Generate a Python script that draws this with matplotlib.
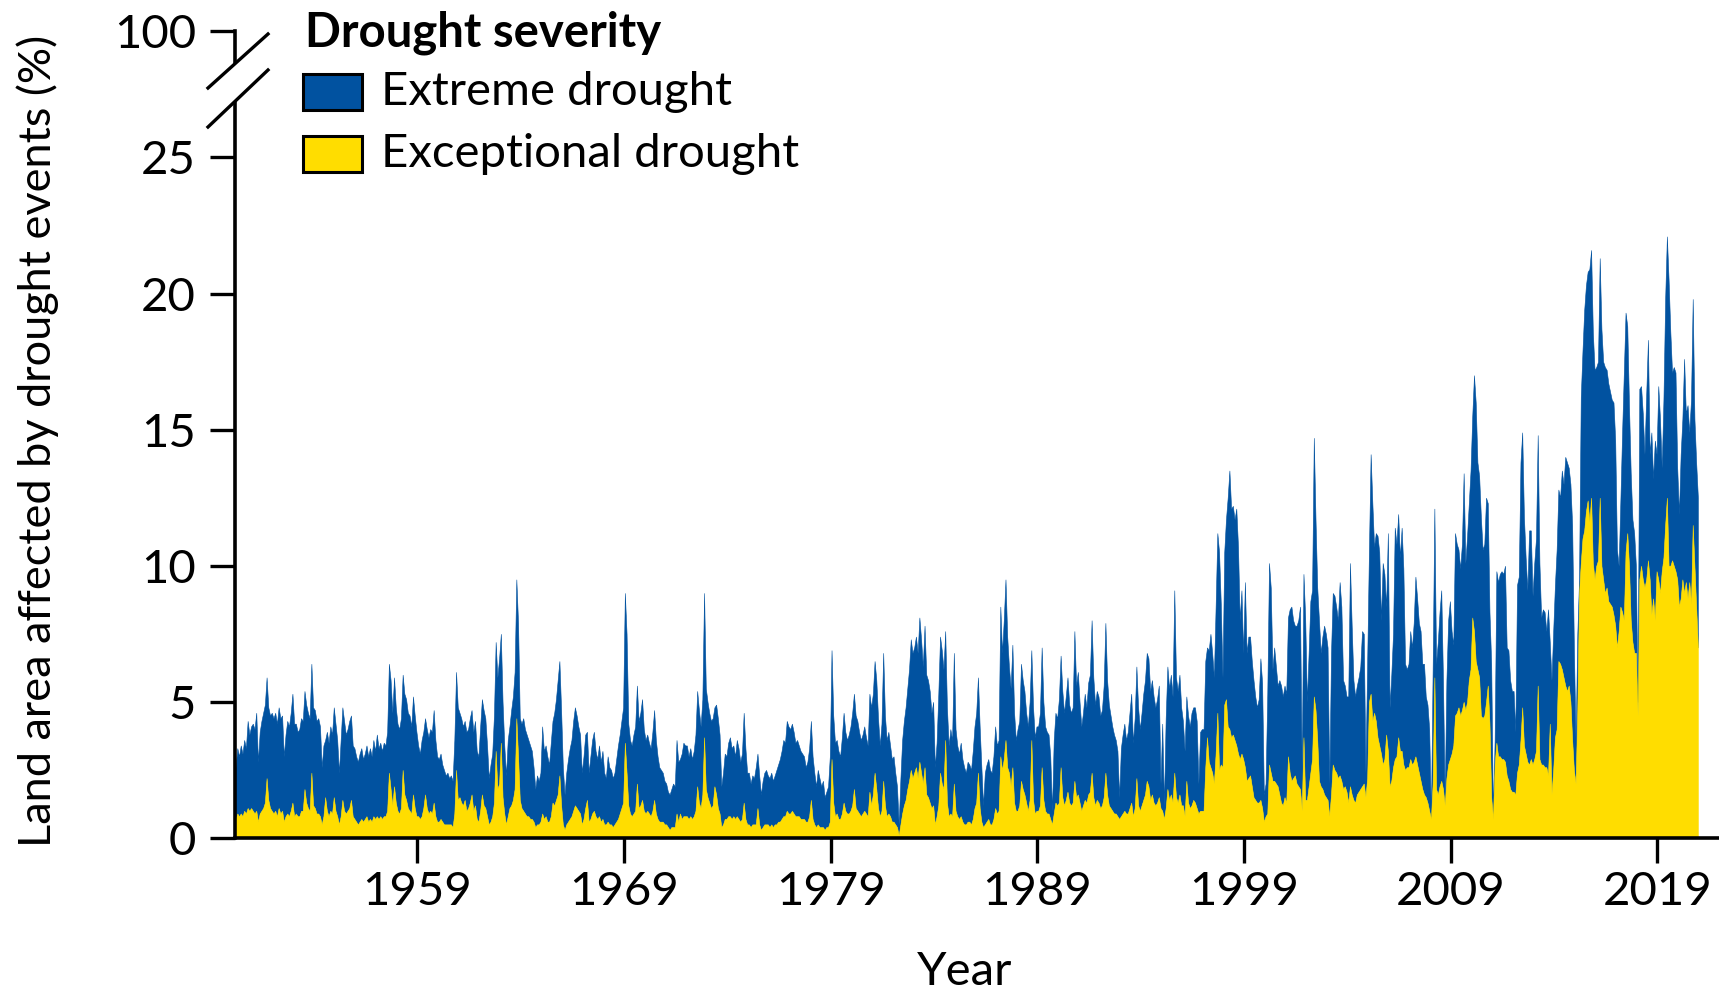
import matplotlib
matplotlib.use("Agg")
import matplotlib.pyplot as plt
from matplotlib.lines import Line2D
from matplotlib.patches import Rectangle
import numpy as np

plt.rcParams["font.family"] = ["Lato", "DejaVu Sans"]

# Monthly share of land area (%) in extreme-or-worse drought (top of blue band), one row per year
total_1950s = [
    3.0, 3.1, 2.6, 3.3, 3.0, 3.4, 3.1, 3.6, 3.3, 4.3, 3.8, 4.1,
    4.2, 4.0, 4.6, 2.8, 3.9, 4.3, 4.6, 4.9, 5.9, 4.8, 4.5, 4.6,
    4.4, 4.6, 4.2, 4.8, 4.4, 4.5, 3.0, 3.8, 4.3, 4.1, 4.6, 5.3,
    4.2, 4.2, 3.9, 4.0, 4.4, 4.3, 5.4, 4.9, 4.6, 4.4, 6.4, 4.8,
    4.7, 4.3, 4.4, 4.1, 2.6, 3.4, 3.6, 3.9, 3.5, 4.1, 3.8, 4.8,
    4.2, 3.6, 2.4, 3.6, 4.8, 4.3, 3.8, 4.0, 4.3, 4.5, 3.4, 3.3,
    3.0, 2.8, 3.1, 3.3, 2.9, 3.1, 3.4, 3.0, 3.3, 3.0, 3.6, 3.2,
    3.8, 3.3, 3.5, 3.2, 3.5, 3.4, 3.9, 6.4, 5.8, 4.6, 5.9, 4.8,
    4.2, 4.0, 4.4, 6.0, 5.3, 5.1, 4.6, 4.5, 4.1, 5.2, 4.5, 3.9,
    3.4, 3.1, 3.6, 3.9, 4.4, 4.0, 3.7, 4.0, 3.9, 4.7, 3.6, 3.0,
]
total_1960s = [
    2.9, 3.1, 2.7, 2.5, 2.3, 2.4, 2.2, 2.3, 2.1, 3.6, 6.1, 4.8,
    4.6, 4.4, 4.1, 4.3, 3.9, 4.0, 4.4, 4.7, 3.9, 4.3, 3.2, 3.0,
    4.1, 5.1, 4.7, 4.4, 3.4, 2.2, 2.7, 3.1, 4.5, 7.2, 5.9, 6.6,
    7.5, 5.0, 3.4, 2.3, 3.6, 4.1, 4.7, 5.2, 6.1, 9.5, 7.9, 4.4,
    4.2, 4.4, 4.0, 3.8, 3.6, 3.4, 3.2, 2.6, 1.8, 2.3, 2.1, 2.4,
    4.1, 3.2, 3.4, 3.0, 2.7, 3.5, 4.3, 4.6, 5.1, 5.8, 6.5, 4.7,
    2.6, 1.6, 2.4, 2.9, 3.3, 3.6, 4.3, 4.8, 4.5, 4.1, 3.8, 2.4,
    3.0, 3.8, 3.9, 2.4, 3.0, 3.6, 3.9, 3.2, 2.9, 3.4, 2.8, 3.2,
    2.4, 2.2, 3.0, 2.6, 2.5, 2.2, 2.4, 2.9, 3.4, 3.8, 4.3, 4.8,
    9.0, 7.5, 4.2, 3.6, 3.4, 3.8, 4.1, 5.6, 4.3, 4.6, 5.1, 4.0,
]
total_1970s = [
    3.6, 3.8, 3.5, 3.3, 3.9, 4.7, 3.6, 3.0, 2.6, 2.5, 2.4, 2.1,
    2.0, 1.7, 1.6, 1.8, 2.0, 1.9, 3.6, 2.8, 2.9, 3.1, 3.5, 3.4,
    3.4, 3.0, 3.3, 2.9, 3.2, 3.8, 5.4, 4.7, 4.1, 5.1, 9.0, 5.5,
    5.0, 4.6, 4.3, 4.4, 4.8, 4.9, 4.4, 3.8, 1.9, 2.4, 3.1, 3.0,
    3.5, 3.7, 3.3, 3.4, 3.0, 3.6, 3.3, 2.8, 3.1, 4.6, 3.3, 2.4,
    2.4, 2.0, 2.3, 2.2, 2.6, 3.1, 2.3, 1.6, 2.1, 2.4, 2.5, 2.3,
    2.2, 2.4, 2.1, 2.3, 2.5, 2.7, 2.9, 3.2, 3.6, 3.5, 4.3, 4.1,
    4.0, 4.2, 3.9, 3.5, 3.6, 3.4, 3.2, 3.1, 3.0, 2.6, 2.8, 3.3,
    4.3, 3.0, 2.4, 1.9, 2.5, 2.2, 1.9, 2.1, 1.5, 1.7, 1.9, 3.0,
    6.9, 4.5, 3.5, 3.6, 3.2, 3.0, 3.7, 4.6, 3.9, 3.6, 3.8, 4.1,
]
total_1980s = [
    4.6, 5.3, 4.5, 4.3, 3.9, 3.6, 3.8, 4.1, 3.7, 3.4, 5.3, 4.8,
    5.3, 6.5, 5.8, 4.4, 3.4, 4.2, 6.8, 4.5, 3.6, 3.9, 3.4, 2.9,
    3.0, 2.4, 1.9, 0.5, 2.2, 3.6, 4.3, 4.8, 5.5, 6.2, 7.3, 6.8,
    7.0, 7.4, 6.8, 8.1, 7.3, 6.3, 7.8, 6.0, 5.8, 5.4, 4.6, 5.0,
    2.6, 3.5, 5.3, 7.4, 6.9, 6.2, 7.6, 4.8, 3.4, 4.0, 3.6, 6.8,
    4.0, 3.4, 3.1, 3.5, 2.9, 2.6, 2.4, 2.8, 2.7, 2.5, 3.2, 4.1,
    4.6, 5.9, 4.1, 2.6, 1.2, 2.4, 2.7, 2.9, 2.5, 2.4, 3.0, 4.1,
    3.4, 3.6, 8.5, 6.8, 8.0, 9.5, 7.4, 6.3, 5.5, 7.1, 4.6, 3.6,
    4.0, 4.3, 6.4, 5.8, 5.4, 4.6, 4.1, 5.0, 6.9, 4.8, 3.7, 4.1,
    4.1, 4.6, 7.0, 5.0, 4.1, 3.9, 3.8, 3.0, 1.0, 3.6, 4.6, 4.4,
]
total_1990s = [
    5.1, 6.7, 5.4, 4.6, 5.2, 5.9, 4.9, 4.6, 4.8, 7.6, 5.6, 6.1,
    5.0, 4.1, 4.6, 5.3, 4.8, 5.7, 6.0, 8.0, 5.9, 4.9, 5.4, 5.2,
    4.5, 4.7, 5.6, 7.9, 5.8, 4.9, 4.5, 4.1, 3.8, 3.6, 3.2, 1.5,
    3.3, 3.8, 4.2, 3.6, 3.9, 4.6, 5.3, 3.5, 4.4, 6.3, 4.8, 4.0,
    4.6, 5.3, 5.8, 6.8, 6.6, 5.4, 5.8, 5.2, 4.8, 5.1, 5.6, 2.0,
    4.2, 1.2, 4.4, 6.3, 5.5, 6.0, 5.2, 9.1, 5.9, 5.4, 6.0, 4.8,
    4.3, 3.2, 5.2, 4.5, 4.1, 4.6, 4.8, 4.8, 4.3, 2.0, 3.9, 4.0,
    4.0, 6.5, 7.0, 6.9, 7.5, 6.8, 5.9, 8.5, 11.2, 10.5, 8.6, 5.9,
    10.5, 11.7, 12.5, 13.5, 12.1, 12.2, 11.7, 12.1, 10.7, 8.0, 9.1, 6.8,
    9.4, 6.8, 7.4, 7.4, 6.5, 5.8, 5.2, 4.8, 5.1, 6.6, 5.7, 1.6,
]
total_2000s = [
    2.0, 5.3, 10.1, 9.2, 6.2, 7.0, 6.3, 5.6, 5.8, 5.6, 5.2, 5.6,
    5.3, 8.1, 8.4, 8.5, 8.0, 7.8, 7.8, 8.0, 8.5, 2.5, 9.7, 8.1,
    5.0, 6.8, 8.7, 9.1, 14.7, 11.7, 9.2, 8.0, 6.8, 7.4, 7.8, 7.5,
    7.0, 2.0, 6.8, 9.0, 8.9, 8.5, 8.0, 9.4, 8.5, 5.8, 5.6, 5.2,
    5.2, 10.1, 7.8, 5.8, 5.2, 5.6, 5.9, 6.3, 7.6, 7.5, 2.4, 6.5,
    10.5, 14.1, 12.3, 10.7, 11.2, 11.1, 10.5, 8.0, 10.1, 9.7, 8.5, 11.2,
    4.8, 6.0, 7.5, 11.4, 10.8, 11.9, 10.3, 11.4, 9.9, 6.4, 6.2, 6.4,
    7.6, 7.0, 7.9, 9.6, 8.8, 7.9, 7.6, 6.4, 6.4, 5.2, 4.9, 4.0,
    0.8, 6.2, 12.1, 6.4, 7.2, 8.3, 9.1, 5.8, 1.5, 5.8, 8.0, 8.7,
    7.6, 7.1, 11.2, 10.8, 10.6, 9.9, 10.8, 13.4, 10.1, 11.1, 12.3, 13.5,
]
total_2010s = [
    15.5, 17.0, 16.0, 13.8, 13.3, 11.8, 10.6, 10.8, 12.5, 12.3, 8.3, 6.4,
    0.9, 3.6, 9.8, 9.4, 9.7, 9.8, 9.7, 10.0, 7.0, 6.9, 5.8, 5.4,
    5.4, 3.9, 9.3, 9.6, 13.8, 14.9, 11.8, 10.3, 9.1, 11.3, 11.3, 8.9,
    10.1, 11.0, 14.8, 10.1, 8.1, 8.4, 8.3, 7.6, 8.4, 7.2, 5.8, 7.6,
    9.3, 10.6, 12.8, 12.5, 13.5, 13.0, 14.0, 13.8, 13.6, 13.0, 11.5, 7.0,
    3.5, 7.5, 9.5, 16.2, 17.9, 19.4, 20.3, 20.8, 20.9, 21.6, 18.6, 17.2,
    17.3, 17.5, 21.3, 18.7, 17.5, 17.3, 17.2, 16.7, 16.4, 16.1, 16.0, 14.6,
    10.6, 10.0, 12.4, 14.9, 17.1, 19.3, 18.8, 15.9, 13.4, 11.7, 11.2, 10.0,
    5.0, 16.5, 16.6, 15.6, 14.1, 16.3, 18.3, 14.1, 14.9, 13.2, 14.6, 14.1,
    16.6, 15.4, 13.6, 16.1, 19.8, 22.1, 20.5, 18.6, 17.1, 17.3, 17.1, 13.6,
    11.9, 14.1, 15.4, 17.6, 15.6, 15.9, 14.9, 16.1, 19.8, 15.4, 13.8, 12.5,
]

# Monthly share of land area (%) in exceptional drought (yellow band)
exceptional_1950s = [
    0.7, 0.8, 0.7, 0.9, 0.8, 0.9, 0.8, 1.0, 0.9, 1.1, 1.0, 1.1,
    1.0, 0.9, 1.0, 0.6, 0.9, 1.0, 1.1, 1.3, 2.2, 1.4, 1.1, 1.0,
    0.9, 1.0, 0.8, 1.1, 0.9, 1.0, 0.6, 0.8, 0.9, 0.8, 1.0, 1.3,
    0.8, 0.9, 0.8, 0.8, 1.0, 1.0, 1.8, 1.3, 1.1, 1.0, 2.4, 1.2,
    1.1, 0.9, 0.9, 0.8, 0.5, 0.8, 1.5, 1.0, 0.8, 1.0, 0.9, 1.5,
    1.0, 0.8, 0.5, 0.8, 1.4, 1.0, 0.9, 1.0, 1.1, 1.4, 0.8, 0.7,
    0.6, 0.5, 0.6, 0.7, 0.6, 0.7, 0.8, 0.6, 0.7, 0.6, 0.8, 0.7,
    0.8, 0.7, 0.8, 0.7, 0.8, 0.8, 1.0, 2.4, 1.8, 1.2, 1.9, 1.3,
    1.0, 0.9, 1.1, 2.5, 1.6, 1.4, 1.1, 1.0, 0.9, 1.6, 1.1, 0.8,
    0.8, 0.7, 0.8, 1.1, 1.6, 1.1, 0.9, 1.0, 0.9, 1.3, 0.8, 0.6,
]
exceptional_1960s = [
    0.6, 0.7, 0.6, 0.5, 0.5, 0.5, 0.5, 0.5, 0.4, 0.9, 2.5, 1.4,
    1.5, 1.3, 1.2, 1.4, 1.0, 1.1, 1.3, 1.6, 1.0, 1.2, 0.7, 0.6,
    1.0, 1.6, 1.2, 1.1, 0.8, 0.5, 0.6, 0.8, 1.3, 3.2, 1.8, 2.0,
    3.5, 1.5, 0.9, 0.5, 0.8, 1.1, 1.2, 1.4, 1.8, 4.4, 3.0, 1.4,
    1.1, 1.0, 0.9, 0.8, 0.8, 0.7, 0.7, 0.6, 0.4, 0.5, 0.5, 0.6,
    0.9, 0.7, 0.8, 0.6, 0.6, 0.8, 1.3, 1.2, 1.4, 1.6, 2.3, 1.2,
    0.5, 0.3, 0.5, 0.6, 0.7, 0.8, 1.0, 1.2, 1.1, 1.0, 0.9, 0.5,
    0.7, 1.1, 1.4, 0.6, 0.7, 0.9, 1.0, 0.8, 0.7, 0.8, 0.6, 0.7,
    0.5, 0.5, 0.6, 0.5, 0.5, 0.4, 0.5, 0.6, 0.7, 0.9, 1.1, 1.3,
    3.5, 2.4, 1.2, 0.9, 0.8, 0.9, 1.0, 2.0, 1.1, 1.2, 1.4, 1.0,
]
exceptional_1970s = [
    0.9, 1.0, 0.9, 0.8, 1.0, 1.4, 0.9, 0.7, 0.6, 0.6, 0.6, 0.5,
    0.5, 0.4, 0.3, 0.4, 0.4, 0.4, 0.9, 0.6, 0.9, 0.7, 0.8, 0.8,
    0.8, 0.7, 0.8, 0.7, 0.8, 1.0, 1.9, 1.3, 1.1, 1.6, 3.7, 1.8,
    1.5, 1.3, 1.1, 1.2, 1.9, 1.6, 1.1, 0.9, 0.4, 0.5, 0.7, 0.7,
    0.8, 0.8, 0.7, 0.8, 0.7, 0.8, 0.7, 0.6, 0.7, 1.3, 0.7, 0.5,
    0.5, 0.4, 0.5, 0.5, 0.5, 1.1, 0.5, 0.3, 0.4, 0.5, 0.5, 0.5,
    0.4, 0.5, 0.4, 0.5, 0.5, 0.6, 0.6, 0.7, 0.8, 0.8, 1.0, 0.9,
    0.9, 1.0, 0.9, 0.8, 0.8, 0.8, 0.7, 0.7, 0.7, 0.6, 0.6, 0.8,
    1.4, 0.7, 0.5, 0.4, 0.5, 0.4, 0.4, 0.4, 0.3, 0.4, 0.4, 0.6,
    2.9, 1.3, 0.8, 0.9, 0.7, 0.7, 0.9, 1.3, 1.0, 0.9, 0.9, 1.0,
]
exceptional_1980s = [
    1.2, 1.8, 1.1, 1.0, 0.9, 0.8, 0.9, 1.0, 0.9, 0.8, 1.7, 1.2,
    1.6, 2.4, 1.8, 1.1, 0.8, 1.0, 2.1, 1.2, 0.8, 0.9, 0.8, 0.6,
    0.6, 0.5, 0.4, 0.1, 0.5, 0.9, 1.2, 1.4, 1.8, 2.1, 2.5, 2.2,
    2.4, 2.6, 2.2, 2.8, 2.4, 2.0, 2.6, 1.6, 1.5, 1.3, 1.1, 1.2,
    0.5, 0.8, 1.2, 2.4, 2.0, 1.8, 3.6, 1.3, 0.8, 0.9, 0.8, 2.0,
    1.0, 0.8, 0.7, 0.8, 0.6, 0.5, 0.5, 0.6, 0.6, 0.5, 0.7, 1.1,
    1.3, 2.4, 1.1, 0.6, 0.4, 0.5, 0.6, 0.7, 0.5, 0.5, 0.7, 1.1,
    0.9, 1.0, 3.0, 2.5, 2.9, 3.6, 2.6, 2.4, 1.9, 2.6, 1.3, 1.0,
    1.0, 1.2, 2.1, 1.8, 1.6, 1.3, 1.0, 1.4, 3.6, 1.4, 0.9, 1.0,
    1.0, 1.2, 2.6, 1.4, 1.0, 0.9, 0.9, 0.7, 0.5, 0.9, 1.3, 1.2,
]
exceptional_1990s = [
    1.3, 2.6, 1.5, 1.2, 1.4, 1.7, 1.3, 1.2, 1.3, 2.1, 1.5, 1.6,
    1.3, 1.0, 1.2, 1.4, 1.3, 1.6, 1.7, 2.4, 1.5, 1.2, 1.4, 1.3,
    1.1, 1.2, 1.5, 2.4, 1.6, 1.2, 1.1, 1.0, 0.9, 0.9, 0.8, 0.7,
    0.8, 0.9, 1.0, 0.9, 0.9, 1.1, 1.3, 0.8, 1.1, 2.2, 1.2, 1.0,
    1.2, 1.4, 1.6, 2.1, 1.9, 1.4, 1.6, 1.3, 1.2, 1.3, 1.5, 1.1,
    1.0, 0.7, 1.1, 1.8, 1.4, 1.6, 1.3, 2.4, 1.5, 1.3, 1.6, 1.2,
    1.2, 0.8, 2.1, 1.3, 1.1, 1.2, 1.4, 1.3, 1.1, 0.9, 1.0, 1.0,
    1.0, 2.6, 3.7, 2.8, 2.6, 2.4, 2.0, 3.1, 4.6, 2.5, 2.7, 2.6,
    4.9, 5.1, 4.1, 4.0, 3.7, 3.8, 3.6, 3.4, 3.1, 2.9, 3.1, 2.9,
    2.6, 2.1, 2.2, 2.3, 1.9, 1.5, 1.4, 1.3, 1.3, 1.4, 1.1, 0.6,
]
exceptional_2000s = [
    0.8, 0.9, 2.7, 2.4, 2.1, 2.1, 2.0, 1.9, 1.6, 1.3, 1.2, 1.5,
    1.3, 3.0, 2.4, 2.1, 2.2, 2.3, 2.0, 1.9, 1.8, 1.0, 3.7, 1.4,
    1.4, 1.9, 2.4, 2.9, 5.2, 4.7, 3.6, 2.1, 1.9, 1.8, 1.6, 1.5,
    1.4, 0.8, 1.6, 2.7, 2.5, 2.4, 2.2, 2.3, 2.1, 1.8, 1.9, 1.7,
    1.3, 1.9, 1.6, 1.4, 1.3, 1.6, 1.7, 1.8, 1.9, 2.0, 1.5, 2.2,
    5.0, 5.3, 4.3, 4.6, 4.3, 3.7, 3.4, 3.1, 2.7, 2.9, 3.8, 3.2,
    1.9, 2.1, 2.6, 2.9, 3.0, 3.7, 3.2, 3.2, 2.7, 2.5, 2.6, 2.6,
    2.9, 2.7, 2.8, 3.0, 2.7, 2.4, 2.1, 1.8, 1.6, 1.5, 1.3, 1.0,
    0.7, 2.0, 5.9, 1.8, 1.6, 1.9, 2.1, 1.8, 1.2, 2.2, 2.7, 2.9,
    3.1, 3.4, 4.5, 4.6, 4.8, 4.5, 4.7, 5.0, 4.7, 5.0, 5.8, 6.2,
]
exceptional_2010s = [
    8.1, 7.6, 6.5, 6.2, 5.9, 4.5, 4.4, 4.5, 5.0, 5.6, 4.2, 1.5,
    0.7, 2.7, 3.5, 3.0, 3.0, 2.9, 2.9, 2.8, 2.3, 2.1, 1.8, 1.7,
    1.7, 1.6, 2.4, 2.7, 3.6, 4.8, 3.4, 3.1, 2.8, 2.7, 2.9, 2.7,
    2.9, 3.2, 5.6, 2.9, 2.7, 2.7, 2.6, 2.6, 2.3, 4.2, 1.6, 2.5,
    3.7, 4.0, 6.5, 6.4, 6.2, 5.9, 5.6, 5.4, 5.6, 5.0, 3.6, 2.5,
    2.0, 4.7, 9.0, 10.1, 11.0, 11.3, 12.0, 12.4, 11.6, 12.5, 10.1, 9.5,
    10.0, 10.2, 12.5, 10.0, 9.5, 9.0, 9.2, 8.7, 8.6, 8.5, 8.2, 7.8,
    7.0, 7.6, 8.5, 8.3, 8.0, 10.5, 11.2, 10.0, 8.0, 7.2, 6.8, 6.8,
    4.5, 9.5, 10.0, 9.5, 9.2, 9.5, 10.2, 9.5, 8.2, 8.8, 8.0, 9.8,
    9.5, 9.0, 9.8, 10.3, 11.5, 12.5, 10.0, 10.0, 10.2, 10.0, 9.8, 9.5,
    8.5, 8.8, 9.5, 9.0, 9.4, 8.8, 9.4, 8.6, 11.5, 10.0, 8.5, 7.0,
]

year_ticks = [1959, 1969, 1979, 1989, 1999, 2009, 2019]
pct_ticks = [0, 5, 10, 15, 20, 25]
legend_labels = ["Extreme drought", "Exceptional drought"]

total = np.concatenate([total_1950s, total_1960s, total_1970s, total_1980s,
                        total_1990s, total_2000s, total_2010s])
exceptional = np.concatenate([exceptional_1950s, exceptional_1960s, exceptional_1970s,
                              exceptional_1980s, exceptional_1990s, exceptional_2000s,
                              exceptional_2010s])
months = 1950 + (np.arange(total.size) + 0.5) / 12

BLUE = "#0152a0"
YELLOW = "#ffdd00"
FS = 34

W, H = 1719, 992
fig = plt.figure(figsize=(W / 100, H / 100), dpi=100)


def fx(px):
    return px / W


def fy(py):
    return 1 - py / H


# main panel, 0-27 %
ax = fig.add_axes([fx(235), fy(838), fx(1719) - fx(235), fy(103) - fy(838)])
ax.fill_between(months, exceptional, total, color=BLUE, lw=0.4, edgecolor=BLUE)
ax.fill_between(months, 0, exceptional, color=YELLOW, lw=0.4, edgecolor=YELLOW)
ax.set_xlim(1950.18, 2021.98)
ax.set_ylim(0, 27.0)
ax.set_xticks(year_ticks)
ax.set_yticks(pct_ticks)
for s in ["top", "right"]:
    ax.spines[s].set_visible(False)
for s in ["left", "bottom"]:
    ax.spines[s].set_linewidth(2.6)
ax.tick_params(width=2.4, length=18, labelsize=FS)
ax.tick_params(axis="x", pad=6)
ax.tick_params(axis="y", pad=10)

# small stub above the break carrying the 100 % tick
ax_top = fig.add_axes([fx(235), fy(62), 0.01, fy(31) - fy(62)])
ax_top.patch.set_visible(False)
ax_top.set_ylim(99, 100)
ax_top.set_yticks([100])
ax_top.set_xticks([])
for s in ["top", "right", "bottom"]:
    ax_top.spines[s].set_visible(False)
ax_top.spines["left"].set_linewidth(2.6)
ax_top.tick_params(width=2.4, length=18, labelsize=FS, pad=10)

# axis break marks
for x0, y0, x1, y1 in [(208, 88, 268, 34), (208, 127, 268, 70)]:
    fig.add_artist(Line2D([fx(x0), fx(x1)], [fy(y0), fy(y1)], color="black", lw=2.4))

# legend
fig.text(fx(305), fy(33), "Drought severity", fontsize=FS, fontweight="bold",
         ha="left", va="center")
for label, color, top in zip(legend_labels, [BLUE, YELLOW], [74, 136]):
    fig.add_artist(Rectangle((fx(303), fy(top + 36)), fx(362) - fx(303),
                             fy(top) - fy(top + 36), facecolor=color,
                             edgecolor="black", lw=2.2, transform=fig.transFigure))
    fig.text(fx(381), fy(top + 18), label, fontsize=FS, ha="left", va="center")

fig.text(fx(38), fy(441), "Land area affected by drought events (%)", rotation=90,
         fontsize=32.5, ha="center", va="center")
fig.text(fx(965), fy(972), "Year", fontsize=FS, ha="center", va="center")

fig.savefig("out.png", dpi=100)
